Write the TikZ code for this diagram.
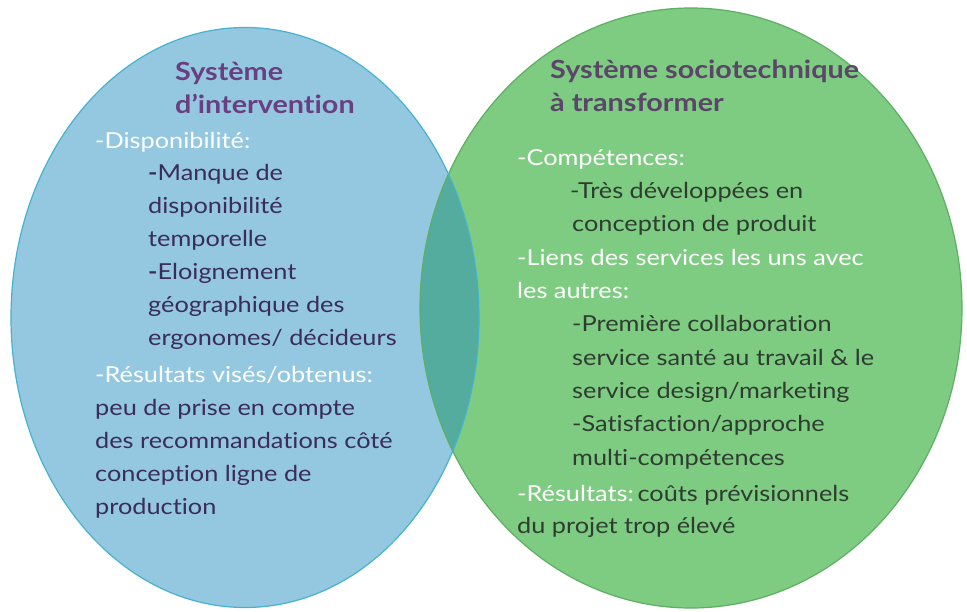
\documentclass[tikz,border=0pt]{standalone}
\usepackage{fontspec}
\setmainfont[FakeStretch=1.15,Ligatures={NoCommon}]{Lato}
\definecolor{bluefill}{HTML}{94C8E0}
\definecolor{blueline}{HTML}{45B2CF}
\definecolor{greenfill}{HTML}{7ECB82}
\definecolor{greenline}{HTML}{5EAE63}
\definecolor{lensfill}{HTML}{54AC9F}
\definecolor{titlepurple}{HTML}{6A3F82}
\definecolor{titlegrey}{HTML}{5B4568}
\definecolor{bodypurple}{HTML}{3A2C5C}
\definecolor{bodygreen}{HTML}{2E3D30}
\tikzset{
  ln/.style={anchor=base west, inner sep=0pt, font=\fontsize{22}{26}\selectfont},
  ttl/.style={ln, font=\fontsize{25}{28}\selectfont\bfseries},
  whiteln/.style={ln, text=white},
  lbody/.style={ln, text=bodypurple},
  rbody/.style={ln, text=bodygreen},
}
\begin{document}
\begin{tikzpicture}[x=1pt,y=-1pt]
\useasboundingbox (0,0) rectangle (967,611);
\fill[white] (0,0) rectangle (967,611);
% ellipses
\fill[greenfill] (691,308) ellipse [x radius=271, y radius=300];
\fill[bluefill] (245,317.5) ellipse [x radius=234, y radius=290];
\begin{scope}
  \clip (691,308) ellipse [x radius=271, y radius=300];
  \fill[lensfill] (245,317.5) ellipse [x radius=234, y radius=290];
\end{scope}
\draw[greenline, line width=1.2pt] (691,308) ellipse [x radius=271, y radius=300];
\draw[blueline, line width=1.2pt] (245,317.5) ellipse [x radius=234, y radius=290];
% left text
\node[ttl, text=titlepurple] (l1) at (175,80) {Système};
\node[ttl, text=titlepurple] (l2) at (175,113) {d’intervention};
\node[whiteln] (l3) at (95,148) {-Disponibilité:};
\node[lbody] (l4) at (148,180) {\textbf{-}Manque de};
\node[lbody] (l5) at (148,213) {disponibilité};
\node[lbody] (l6) at (148,246) {temporelle};
\node[lbody] (l7) at (148,279) {\textbf{-}Eloignement};
\node[lbody] (l8) at (148,312) {géographique des};
\node[lbody] (l9) at (148,345) {ergonomes/ décideurs};
\node[whiteln] (l10) at (95,382) {-Résultats visés/obtenus:};
\node[lbody] (l11) at (95,415) {peu de prise en compte};
\node[lbody] (l12) at (95,448) {des recommandations côté};
\node[lbody] (l13) at (95,481) {conception ligne de};
\node[lbody] (l14) at (95,514) {production};
% right text
\node[ttl, text=titlegrey] (r1) at (550,78) {Système sociotechnique};
\node[ttl, text=titlegrey] (r2) at (550,111) {à transformer};
\node[whiteln] (r3) at (517,165) {-Compétences:};
\node[rbody] (r4) at (570,198) {-Très développées en};
\node[rbody] (r5) at (572,231) {conception de produit};
\node[whiteln] (r6) at (517,265) {-Liens des services les uns avec};
\node[whiteln] (r7) at (517,298) {les autres:};
\node[rbody] (r8) at (572,331) {-Première collaboration};
\node[rbody] (r9) at (572,365) {service santé au travail \& le};
\node[rbody] (r10) at (572,398) {service design/marketing};
\node[rbody] (r11) at (572,431) {-Satisfaction/approche};
\node[rbody] (r12) at (572,465) {multi-compétences};
\node[rbody] (r13) at (517,501) {\textcolor{white}{-Résultats:}\,coûts prévisionnels};
\node[rbody] (r14) at (517,533) {du projet trop élevé};
\end{tikzpicture}
\end{document}
